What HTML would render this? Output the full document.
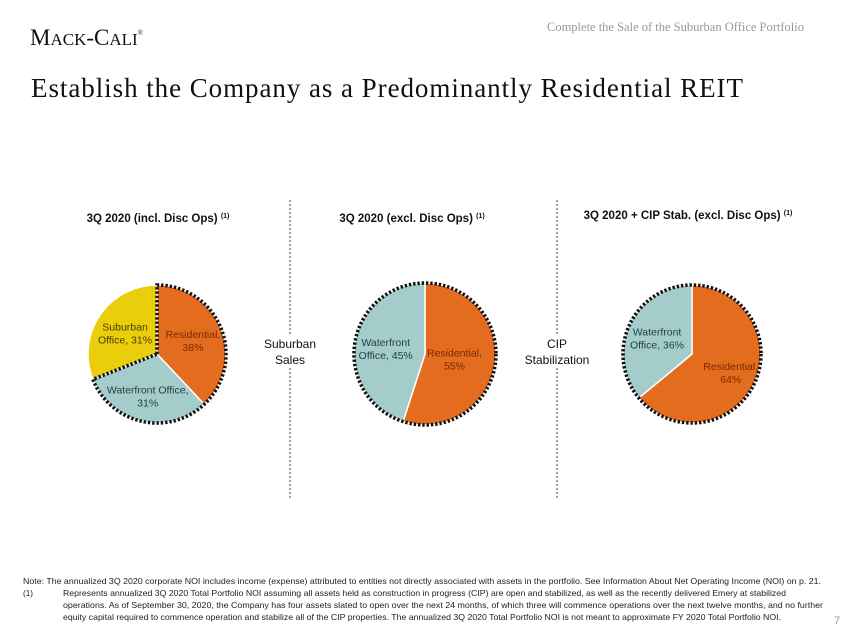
<!DOCTYPE html>
<html><head><meta charset="utf-8"><style>
html,body{margin:0;padding:0;background:#fff;}
svg{display:block;}
</style></head><body>
<svg id="s" width="850" height="638" viewBox="0 0 850 638" xmlns="http://www.w3.org/2000/svg">
<text x="30" y="45" font-family="Liberation Serif, serif" font-size="23" fill="#111">M<tspan font-size="17">ACK</tspan>-C<tspan font-size="17">ALI</tspan><tspan font-size="7" dy="-10">®</tspan></text>
<text x="804" y="31" text-anchor="end" font-family="Liberation Serif, serif" font-size="12.5" fill="#999">Complete the Sale of the Suburban Office Portfolio</text>
<text x="31" y="97" font-family="Liberation Serif, serif" font-size="27" fill="#111" textLength="712">Establish the Company as a Predominantly Residential REIT</text>

<g font-family="Liberation Sans, sans-serif" font-weight="bold" font-size="11.5" fill="#111">
<text x="158" y="222" text-anchor="middle">3Q 2020 (incl. Disc Ops) <tspan font-size="7" dy="-4">(1)</tspan></text>
<text x="412" y="222" text-anchor="middle">3Q 2020 (excl. Disc Ops) <tspan font-size="7" dy="-4">(1)</tspan></text>
<text x="688" y="219" text-anchor="middle">3Q 2020 + CIP Stab. (excl. Disc Ops) <tspan font-size="7" dy="-4">(1)</tspan></text>
</g>

<line x1="290" y1="200" x2="290" y2="500" stroke="#444" stroke-width="1" stroke-dasharray="2,2"/>
<line x1="557" y1="200" x2="557" y2="500" stroke="#444" stroke-width="1" stroke-dasharray="2,2"/>
<g font-family="Liberation Sans, sans-serif" font-size="12" fill="#111" text-anchor="middle">
<rect x="258" y="334" width="64" height="34" fill="#fff"/>
<text x="290" y="348">Suburban</text>
<text x="290" y="364">Sales</text>
<rect x="515" y="334" width="84" height="34" fill="#fff"/>
<text x="557" y="348">CIP</text>
<text x="557" y="364">Stabilization</text>
</g>
<g id="pies"></g>

<g font-family="Liberation Sans, sans-serif" font-size="8.2" fill="#222">
<text x="23" y="584" textLength="798" lengthAdjust="spacingAndGlyphs">Note: The annualized 3Q 2020 corporate NOI includes income (expense) attributed to entities not directly associated with assets in the portfolio. See Information About Net Operating Income (NOI) on p. 21.</text>
<text x="23" y="596">(1)</text>
<text x="63" y="596" textLength="723" lengthAdjust="spacingAndGlyphs">Represents annualized 3Q 2020 Total Portfolio NOI assuming all assets held as construction in progress (CIP) are open and stabilized, as well as the recently delivered Emery at stabilized</text>
<text x="63" y="608" textLength="760" lengthAdjust="spacingAndGlyphs">operations.  As of September 30, 2020, the Company has four assets slated to open over the next 24 months, of which three will commence operations over the next twelve months, and no further</text>
<text x="63" y="620" textLength="718" lengthAdjust="spacingAndGlyphs">equity capital required to commence operation and stabilize all of the CIP properties. The annualized 3Q 2020 Total Portfolio NOI is not meant to approximate FY 2020 Total Portfolio NOI.</text>
<text x="834" y="624" font-size="11" fill="#999">7</text>
</g>
</svg>
<script>
const pieNames = ['incl-disc-ops','excl-disc-ops','cip-stab'];
const pie1Labels = ['Residential','Waterfront Office','Suburban Office'];
const pie1Values = [38,31,31];
const pie2Labels = ['Residential','Waterfront Office'];
const pie2Values = [55,45];
const pie3Labels = ['Residential','Waterfront Office'];
const pie3Values = [64,36];

const NS='http://www.w3.org/2000/svg';
const g=document.getElementById('pies');
const colors={'Residential':'#E36C1F','Waterfront Office':'#A3CCCB','Suburban Office':'#EACD0B'};
const textColors={'Residential':'#7a2a00','Waterfront Office':'#1f3f44','Suburban Office':'#4a3f00'};
function pt(cx,cy,r,f){const a=f*2*Math.PI;return [cx+r*Math.sin(a),cy-r*Math.cos(a)];}
function el(t,a){const e=document.createElementNS(NS,t);for(const k in a)e.setAttribute(k,a[k]);g.appendChild(e);return e;}
const dotStyle={fill:'none',stroke:'#111','stroke-width':3.5,'stroke-dasharray':'2.4,1.9'};
function drawPie(idx,cx,cy,r,labels,values,labR){
  const tot=values.reduce((a,b)=>a+b,0);
  let acc=0;const dotted=[];
  labels.forEach((lab,i)=>{
    const f0=acc/tot,f1=(acc+values[i])/tot;acc+=values[i];
    const p0=pt(cx,cy,r,f0),p1=pt(cx,cy,r,f1);
    const large=(f1-f0)>0.5?1:0;
    const p=el('path',{d:`M${cx},${cy}L${p0[0]},${p0[1]}A${r},${r} 0 ${large} 1 ${p1[0]},${p1[1]}Z`,fill:colors[lab],stroke:'#fff','stroke-width':1.5});
    
    
    if(lab!=='Suburban Office')dotted.push([f0,f1]);
  });
  if(labels.length===2){
    const c=el('circle',Object.assign({cx:cx,cy:cy,r:r},dotStyle));
    
    
  } else {
    const f0=dotted[0][0],f1=dotted[dotted.length-1][1];
    const p0=pt(cx,cy,r,f0),p1=pt(cx,cy,r,f1);
    const large=(f1-f0)>0.5?1:0;
    const o=el('path',Object.assign({d:`M${cx},${cy}L${p0[0]},${p0[1]}A${r},${r} 0 ${large} 1 ${p1[0]},${p1[1]}Z`},dotStyle));
    
    
  }
  acc=0;
  labels.forEach((lab,i)=>{
    const fm=(acc+values[i]/2)/tot;acc+=values[i];
    const q=pt(cx,cy,r*(labR[i]||0.56),fm);
    const words=lab==='Waterfront Office'&&labels.length===3?[lab+',',values[i]+'%']:
      lab==='Residential'?[lab+',',values[i]+'%']:[lab.split(' ')[0],lab.split(' ')[1]+', '+values[i]+'%'];
    const t=el('text',{x:q[0],y:q[1]-2,'text-anchor':'middle','font-family':'Liberation Sans, sans-serif','font-size':10.5,fill:textColors[lab]});
    
    
    words.forEach((w,j)=>{const s=document.createElementNS(NS,'tspan');s.setAttribute('x',q[0]);s.setAttribute('dy',j?13:0);s.textContent=w;t.appendChild(s);});
  });
}
drawPie(0,157,354,69,pie1Labels,pie1Values,[0.56,0.62,0.56]);
drawPie(1,425,354,71,pie2Labels,pie2Values,[0.42,0.56]);
drawPie(2,692,354,69,pie3Labels,pie3Values,[0.62,0.56]);
</script>
</body></html>
